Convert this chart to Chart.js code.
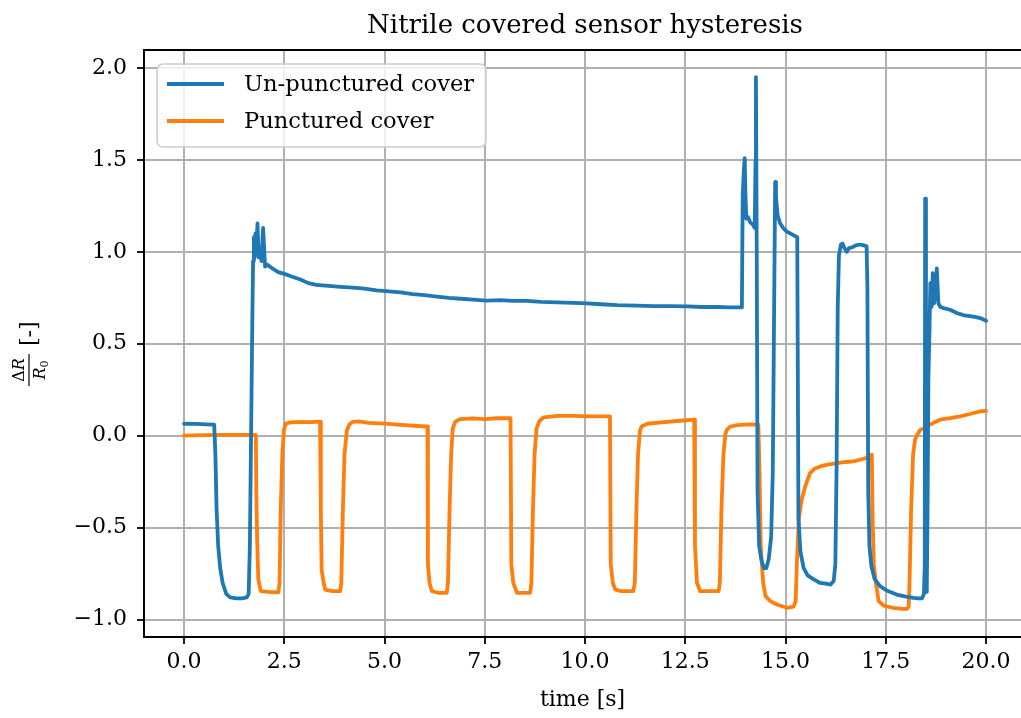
<!DOCTYPE html>
<html><head><meta charset="utf-8">
<script src="https://cdn.jsdelivr.net/npm/chart.js@4/dist/chart.umd.min.js"></script>
<style>html,body{margin:0;padding:0;overflow:hidden;background:#fff;width:1021px;height:718px}canvas{display:block}</style>
</head><body><canvas id="c" width="1021" height="718" style="width:1021px;height:718px"></canvas>
<script>
const chartTitle = 'Nitrile covered sensor hysteresis';
const xAxisTitle = 'time [s]';
const seriesNames = ['Un-punctured cover', 'Punctured cover'];
const xTickValues = [0, 2.5, 5, 7.5, 10, 12.5, 15, 17.5, 20];
const yTickValues = [-1, -0.5, 0, 0.5, 1, 1.5, 2];

const blueT = [0.00,0.30,0.55,0.75,0.78,0.81,0.85,0.90,0.96,1.05,1.15,1.30,1.45,1.56,1.61,1.64,1.67,1.70,1.72,1.74,1.76,1.78,1.80,1.83,1.86,1.90,1.93,1.97,2.02,2.08,2.20,2.35,2.50,2.70,2.90,3.10,3.30,3.60,3.90,4.20,4.50,4.80,5.10,5.40,5.70,6.00,6.30,6.60,6.90,7.20,7.55,7.90,8.20,8.55,8.90,9.30,9.70,10.05,10.40,10.80,11.30,11.70,12.10,12.55,12.90,13.30,13.60,13.91,13.93,13.96,13.98,14.00,14.02,14.06,14.12,14.18,14.23,14.25,14.26,14.28,14.30,14.34,14.40,14.46,14.52,14.58,14.64,14.68,14.71,14.74,14.76,14.80,14.86,14.94,15.03,15.12,15.20,15.29,15.32,15.37,15.45,15.55,15.69,15.85,16.00,16.12,16.20,16.24,16.27,16.30,16.33,16.38,16.42,16.47,16.52,16.58,16.66,16.75,16.86,16.95,17.02,17.04,17.06,17.09,17.14,17.22,17.36,17.55,17.77,18.00,18.19,18.30,18.40,18.45,18.47,18.48,18.50,18.52,18.54,18.56,18.59,18.61,18.64,18.67,18.70,18.73,18.77,18.81,18.86,18.94,19.10,19.27,19.45,19.60,19.75,19.85,20.00];
const blueV = [0.065,0.064,0.062,0.060,-0.10,-0.40,-0.60,-0.72,-0.80,-0.86,-0.88,-0.885,-0.885,-0.88,-0.86,-0.60,0.00,0.60,0.95,1.08,0.97,1.10,1.00,1.155,0.97,1.00,0.95,1.13,0.92,0.93,0.91,0.89,0.88,0.865,0.85,0.83,0.82,0.815,0.81,0.805,0.80,0.79,0.785,0.78,0.77,0.765,0.757,0.75,0.745,0.74,0.735,0.737,0.733,0.733,0.728,0.725,0.722,0.72,0.715,0.71,0.707,0.705,0.705,0.703,0.70,0.70,0.698,0.698,1.31,1.45,1.51,1.30,1.18,1.19,1.16,1.15,1.13,1.50,1.95,1.00,-0.30,-0.60,-0.68,-0.72,-0.72,-0.67,-0.55,-0.20,0.60,1.38,1.30,1.20,1.156,1.13,1.11,1.10,1.09,1.08,-0.45,-0.63,-0.72,-0.76,-0.78,-0.80,-0.805,-0.81,-0.79,-0.70,-0.20,0.70,0.98,1.04,1.045,1.02,1.00,1.02,1.025,1.035,1.04,1.035,1.03,0.80,-0.30,-0.60,-0.71,-0.78,-0.82,-0.845,-0.864,-0.875,-0.882,-0.885,-0.885,-0.86,-0.70,1.29,-0.60,-0.85,-0.40,0.30,0.60,0.83,0.70,0.884,0.72,0.757,0.91,0.72,0.70,0.694,0.685,0.667,0.655,0.65,0.645,0.64,0.625];

const orangeT = [0.00,0.50,1.00,1.50,1.79,1.80,1.82,1.85,1.91,2.10,2.35,2.38,2.41,2.45,2.49,2.53,2.65,2.90,3.15,3.39,3.41,3.43,3.48,3.52,3.70,3.89,3.92,3.96,4.00,4.06,4.12,4.20,4.35,4.60,5.00,5.50,6.01,6.07,6.08,6.12,6.18,6.35,6.55,6.58,6.62,6.66,6.70,6.76,6.88,7.20,7.50,7.80,8.14,8.16,8.21,8.30,8.63,8.66,8.70,8.74,8.79,8.86,8.97,9.30,9.70,10.10,10.62,10.64,10.69,10.75,10.90,11.20,11.24,11.28,11.32,11.37,11.41,11.55,11.90,12.30,12.72,12.74,12.79,12.87,13.10,13.33,13.36,13.40,13.45,13.50,13.53,13.62,13.80,14.10,14.32,14.35,14.38,14.44,14.50,14.62,14.78,15.03,15.20,15.25,15.28,15.33,15.40,15.49,15.61,15.72,15.86,16.05,16.28,16.50,16.69,16.90,17.02,17.15,17.17,17.20,17.25,17.32,17.45,17.69,17.90,18.02,18.07,18.09,18.13,18.18,18.23,18.27,18.35,18.44,18.60,18.85,19.10,19.35,19.60,19.85,20.00];
const orangeV = [0.000,0.003,0.005,0.005,0.005,-0.30,-0.55,-0.78,-0.846,-0.85,-0.852,-0.80,-0.40,-0.10,0.03,0.065,0.072,0.075,0.074,0.076,-0.40,-0.73,-0.80,-0.837,-0.845,-0.846,-0.80,-0.40,-0.10,0.03,0.06,0.075,0.078,0.070,0.066,0.058,0.050,0.050,-0.70,-0.80,-0.846,-0.855,-0.855,-0.80,-0.40,-0.10,0.04,0.075,0.09,0.094,0.090,0.095,0.095,-0.70,-0.80,-0.855,-0.855,-0.80,-0.40,-0.10,0.04,0.08,0.100,0.108,0.108,0.105,0.105,-0.70,-0.80,-0.836,-0.846,-0.846,-0.80,-0.40,-0.10,0.03,0.05,0.065,0.072,0.080,0.087,-0.60,-0.80,-0.846,-0.846,-0.846,-0.80,-0.40,-0.10,0.01,0.03,0.05,0.058,0.062,0.06,-0.20,-0.60,-0.80,-0.873,-0.90,-0.918,-0.936,-0.93,-0.90,-0.70,-0.45,-0.348,-0.275,-0.203,-0.180,-0.167,-0.157,-0.149,-0.143,-0.140,-0.128,-0.121,-0.103,-0.45,-0.70,-0.80,-0.90,-0.925,-0.937,-0.942,-0.942,-0.93,-0.80,-0.40,-0.10,-0.02,0.00,0.03,0.04,0.06,0.087,0.095,0.105,0.118,0.132,0.135];

const FAM = '"DejaVu Serif", serif';
const BLUE = '#1f77b4', ORANGE = '#ff7f0e';
const fmt = v => (v < 0 ? '\u2212' : '') + Math.abs(v).toFixed(1);
const pts = (T, V) => T.map((t, i) => ({x: t, y: V[i]}));
const AXES_RIGHT = 1026; // axes frame extends just past the picture edge

const spines = {
  id: 'spines',
  afterDatasetsDraw(chart) {
    const a = chart.chartArea, ctx = chart.ctx;
    ctx.save(); ctx.strokeStyle = '#000'; ctx.lineWidth = 1.8;
    ctx.beginPath();
    ctx.moveTo(chart.width + 5, a.top); ctx.lineTo(a.left, a.top); ctx.lineTo(a.left, a.bottom); ctx.lineTo(chart.width + 5, a.bottom);
    ctx.stroke();
    ctx.restore();
  }
};

const titlePlugin = {
  id: 'titlePlugin',
  afterDraw(chart) {
    const ctx = chart.ctx, a = chart.chartArea;
    ctx.save();
    ctx.fillStyle = '#000'; ctx.font = '26px ' + FAM; ctx.textAlign = 'center'; ctx.textBaseline = 'middle';
    ctx.fillText(chartTitle, (a.left + AXES_RIGHT) / 2, 26);
    ctx.restore();
  }
};

const legendBox = {
  id: 'legendBox',
  afterDraw(chart) {
    const ctx = chart.ctx;
    const x = 157, y = 64, w = 329, h = 83, r = 6;
    ctx.save();
    ctx.beginPath(); ctx.roundRect(x, y, w, h, r);
    ctx.fillStyle = 'rgba(255,255,255,0.8)'; ctx.fill();
    ctx.strokeStyle = '#cccccc'; ctx.lineWidth = 1.6; ctx.stroke();
    const rows = [84, 121];
    chart.data.datasets.forEach((ds, i) => {
      ctx.beginPath(); ctx.moveTo(167, rows[i]); ctx.lineTo(224, rows[i]);
      ctx.strokeStyle = ds.borderColor; ctx.lineWidth = 3.8; ctx.stroke();
      ctx.fillStyle = '#000'; ctx.font = '22.6px ' + FAM; ctx.textBaseline = 'middle'; ctx.textAlign = 'left';
      ctx.fillText(ds.label, 244, rows[i] + 1);
    });
    ctx.restore();
  }
};

const yLabel = {
  id: 'yLabel',
  afterDraw(chart) {
    const ctx = chart.ctx;
    ctx.save();
    ctx.translate(29, 370); ctx.rotate(-Math.PI / 2);
    ctx.fillStyle = '#000'; ctx.strokeStyle = '#000';
    const fN = '16px ' + FAM, fI = 'italic 16px ' + FAM, fS = '11px ' + FAM;
    ctx.textBaseline = 'alphabetic'; ctx.textAlign = 'left';
    ctx.font = fN; const wD = ctx.measureText('\u0394').width;
    ctx.font = fI; const wR = ctx.measureText('R').width;
    let u = -(wD + wR) / 2;
    ctx.font = fN; ctx.fillText('\u0394', u, -5);
    ctx.font = fI; ctx.fillText('R', u + wD, -5);
    ctx.beginPath(); ctx.moveTo(-16, 0); ctx.lineTo(16, 0); ctx.lineWidth = 1.2; ctx.stroke();
    ctx.font = fS; const w0 = ctx.measureText('0').width;
    u = -(wR + w0) / 2;
    ctx.font = fI; ctx.fillText('R', u, 16);
    ctx.font = fS; ctx.fillText('0', u + wR, 19);
    ctx.font = '22px ' + FAM; ctx.textBaseline = 'middle';
    ctx.fillText('[-]', 24, 1);
    ctx.restore();
  }
};

const tickFont = {family: FAM, size: 22};

new Chart(document.getElementById('c'), {
  type: 'scatter',
  data: {
    datasets: [
      {label: seriesNames[0], data: pts(blueT, blueV), showLine: true, borderColor: BLUE, backgroundColor: BLUE, borderWidth: 3.8, pointRadius: 0, tension: 0, borderJoinStyle: 'round', borderCapStyle: 'round'},
      {label: seriesNames[1], data: pts(orangeT, orangeV), showLine: true, borderColor: ORANGE, backgroundColor: ORANGE, borderWidth: 3.8, pointRadius: 0, tension: 0, borderJoinStyle: 'round', borderCapStyle: 'round'}
    ]
  },
  options: {
    responsive: false, animation: false, devicePixelRatio: 1,
    layout: {padding: {left: 0, right: 0, top: 50, bottom: 0}},
    plugins: {
      legend: {display: false}, tooltip: {enabled: false}, title: {display: false}
    },
    scales: {
      x: {
        type: 'linear', min: -1, max: 20.87,
        afterBuildTicks: s => { s.ticks = xTickValues.map(v => ({value: v})); },
        afterFit: s => { s.height = 81; },
        ticks: {font: tickFont, color: '#000', padding: 5, maxRotation: 0, autoSkip: false, callback: v => fmt(v)},
        grid: {color: '#b0b0b0', lineWidth: 2, tickLength: 7, tickColor: '#000', tickWidth: 1.8},
        border: {color: '#000', width: 1.8},
        title: {display: true, text: xAxisTitle, color: '#000', font: {family: FAM, size: 22}, padding: {top: 0, bottom: 5}}
      },
      y: {
        type: 'linear', min: -1.095, max: 2.098,
        afterBuildTicks: s => { s.ticks = yTickValues.map(v => ({value: v})); },
        afterFit: s => { s.width = 144; },
        ticks: {font: tickFont, color: '#000', padding: 10, autoSkip: false, callback: v => fmt(v)},
        grid: {color: '#b0b0b0', lineWidth: 2, tickLength: 7, tickColor: '#000', tickWidth: 1.8},
        border: {color: '#000', width: 1.8}
      }
    }
  },
  plugins: [spines, titlePlugin, legendBox, yLabel]
});
</script>
</body></html>
